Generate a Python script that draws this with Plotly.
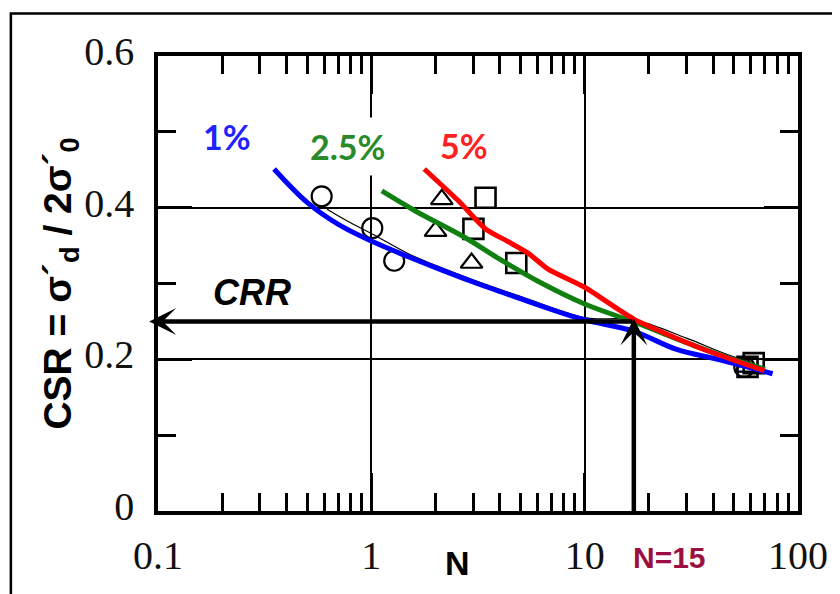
import math
import plotly.graph_objects as go

# ---------------- data ----------------
blue_N = [0.35, 0.5, 0.7, 1.0, 1.5, 2.0, 3.0, 5.0, 7.5, 10, 17, 27, 42, 76]
blue_CSR = [0.451, 0.407, 0.378, 0.356, 0.335, 0.321, 0.302, 0.280, 0.263, 0.252, 0.237, 0.213, 0.200, 0.181]

green_N = [1.12, 1.6, 2.77, 4.0, 6.04, 10, 17.5, 30, 45, 70]
green_CSR = [0.422, 0.396, 0.360, 0.332, 0.303, 0.273, 0.248, 0.222, 0.204, 0.187]

red_N = [1.77, 2.56, 3.43, 4.39, 5.43, 6.73, 10, 17, 34.7, 69.5]
red_CSR = [0.451, 0.409, 0.372, 0.355, 0.340, 0.319, 0.295, 0.253, 0.215, 0.185]

fit_N = [0.62, 0.8, 1.0, 1.5, 2, 3, 5, 10, 17, 30, 45, 60]
fit_CSR = [0.398, 0.380, 0.366, 0.339, 0.324, 0.305, 0.283, 0.255, 0.252, 0.228, 0.208, 0.196]

circle_N = [0.585, 1.01, 1.28, 56]
circle_CSR = [0.415, 0.373, 0.330, 0.190]

triangle_N = [2.14, 2.0, 2.95, 57]
triangle_CSR = [0.411, 0.369, 0.327, 0.190]

square_N = [3.43, 3.01, 4.78, 62, 58]
square_CSR = [0.413, 0.372, 0.327, 0.195, 0.190]

N_design = 17
CRR_value = 0.250
N_left = 0.091

x_tickvals = [0.1, 1, 10, 100]
x_ticktext = ["0.1", "1", "10", "100"]
y_tickvals = [0, 0.2, 0.4, 0.6]
y_ticktext = ["0", "0.2", "0.4", "0.6"]
x_minor = [m * 10 ** e for e in (-1, 0, 1) for m in range(2, 10)]
y_minor = [0.1, 0.3, 0.5]

BLUE = "#0000ff"
GREEN = "#108010"
RED = "#ff0000"

fig = go.Figure()

# markers (drawn under lines)
fig.add_trace(go.Scatter(x=circle_N, y=circle_CSR, mode="markers",
                         marker=dict(symbol="circle-open", size=20, color="black", line=dict(width=2.2))))
fig.add_trace(go.Scatter(x=triangle_N, y=triangle_CSR, mode="markers",
                         marker=dict(symbol="triangle-up-open", size=19, color="black", line=dict(width=2.2))))
fig.add_trace(go.Scatter(x=square_N, y=square_CSR, mode="markers",
                         marker=dict(symbol="square-open", size=20, color="black", line=dict(width=2.6))))

# thin black fit curve
fig.add_trace(go.Scatter(x=fit_N, y=fit_CSR, mode="lines",
                         line=dict(color="black", width=1.2, shape="spline")))

fig.add_trace(go.Scatter(x=blue_N, y=blue_CSR, mode="lines",
                         line=dict(color=BLUE, width=5, shape="spline")))
fig.add_trace(go.Scatter(x=green_N, y=green_CSR, mode="lines",
                         line=dict(color=GREEN, width=5, shape="spline")))
fig.add_trace(go.Scatter(x=red_N, y=red_CSR, mode="lines",
                         line=dict(color=RED, width=5, shape="spline", smoothing=0.6)))

tick_font = dict(family="Liberation Serif, Times New Roman, serif", size=40, color="#111111")

fig.update_xaxes(
    type="log", range=[-1, 2],
    tickmode="array", tickvals=x_tickvals, ticktext=x_ticktext,
    ticks="inside", ticklen=38, tickwidth=3, tickcolor="black",
    showline=True, linewidth=3.5, linecolor="black", mirror="ticks",
    showgrid=True, gridcolor="black", gridwidth=1.5,
    zeroline=False, tickfont=tick_font, ticklabelstandoff=6,
    minor=dict(tickmode="array", tickvals=x_minor, ticks="inside", ticklen=18,
               tickwidth=3, tickcolor="black", showgrid=False),
)
fig.update_yaxes(
    range=[0, 0.6],
    tickmode="array", tickvals=y_tickvals, ticktext=y_ticktext,
    ticks="inside", ticklen=34, tickwidth=3, tickcolor="black",
    showline=True, linewidth=3.5, linecolor="black", mirror="ticks",
    showgrid=True, gridcolor="black", gridwidth=1.5,
    zeroline=False, tickfont=tick_font, ticklabelstandoff=12, ticklabelshift=-5,
    minor=dict(tickmode="array", tickvals=y_minor, ticks="inside", ticklen=18,
               tickwidth=3, tickcolor="black", showgrid=False),
)

def label(x, y, text, font, **kw):
    d = dict(x=x, y=y, xref="paper", yref="paper", text=text, showarrow=False,
             xanchor="center", yanchor="middle", font=font)
    d.update(kw)
    return d

annotations = [
    # CRR horizontal arrow
    dict(x=math.log10(N_left), y=CRR_value, ax=math.log10(N_design), ay=CRR_value,
         xref="x", yref="y", axref="x", ayref="y", text="", showarrow=True,
         arrowhead=3, arrowsize=1.0, arrowwidth=4.5, arrowcolor="black"),
    # N vertical arrow
    dict(x=math.log10(N_design), y=CRR_value + 0.004, ax=math.log10(N_design), ay=-0.004,
         xref="x", yref="y", axref="x", ayref="y", text="", showarrow=True,
         arrowhead=3, arrowsize=1.0, arrowwidth=4.5, arrowcolor="black"),
    label(0.108, 0.824, "<b>1%</b>",
          dict(family="Lato, Open Sans, sans-serif", size=34, color="#2222ff")),
    label(0.296, 0.802, "<b>2.5%</b>",
          dict(family="Lato, Open Sans, sans-serif", size=34, color="#2a8a2a"),
          bgcolor="white", borderpad=8),
    label(0.478, 0.804, "<b>5%</b>",
          dict(family="Lato, Open Sans, sans-serif", size=34, color="#ff2222")),
    label(0.147, 0.481, "<b><i>CRR</i></b>",
          dict(family="Liberation Sans, Arial, sans-serif", size=36, color="black")),
    label(0.4675, -0.114, "<b>N</b>",
          dict(family="Liberation Sans, Arial, sans-serif", size=34, color="black")),
    label(0.799, -0.103, "<b>N=15</b>",
          dict(family="Liberation Sans, Arial, sans-serif", size=30, color="#9b1040")),
    label(-0.153, 0.500, "<b>CSR = σ´<sub>d</sub> / 2σ´<sub>0</sub></b>",
          dict(family="Liberation Sans, Arial, sans-serif", size=39, color="black"),
          textangle=-90),
]

fig.update_layout(
    width=832, height=586, autosize=False,
    margin=dict(l=150, r=36, t=48, b=83),
    paper_bgcolor="white", plot_bgcolor="white",
    showlegend=False,
    annotations=annotations,
    shapes=[dict(type="rect", xref="paper", yref="paper",
                 x0=-0.2299, x1=1.2, y0=-0.5, y1=1.0934,
                 line=dict(color="black", width=2.5), layer="above")],
)

fig.write_html("out.html")
